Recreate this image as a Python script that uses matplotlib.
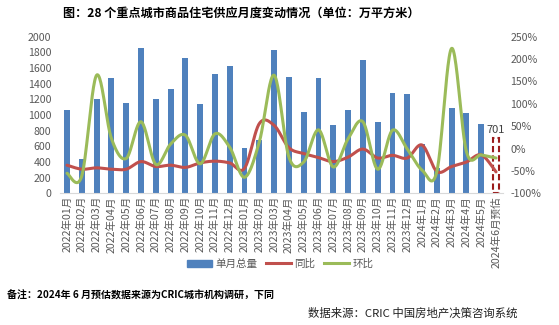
import numpy as np
import matplotlib
matplotlib.use("Agg")
import matplotlib.pyplot as plt
from matplotlib.patches import Patch
from matplotlib.lines import Line2D
from matplotlib.ticker import FuncFormatter

plt.rcParams['font.family'] = ['Noto Sans CJK SC', 'DejaVu Sans']

months = ["2022年01月", "2022年02月", "2022年03月", "2022年04月", "2022年05月", "2022年06月",
          "2022年07月", "2022年08月", "2022年09月", "2022年10月", "2022年11月", "2022年12月",
          "2023年01月", "2023年02月", "2023年03月", "2023年04月", "2023年05月", "2023年06月",
          "2023年07月", "2023年08月", "2023年09月", "2023年10月", "2023年11月", "2023年12月",
          "2024年1月", "2024年2月", "2024年3月", "2024年4月", "2024年5月", "2024年6月预估"]

supply = [1064, 435, 1204, 1476, 1157, 1860, 1204, 1332, 1728, 1140, 1523, 1626,
          583, 680, 1830, 1481, 1042, 1476, 872, 1064, 1702, 911, 1285, 1268,
          630, 330, 1089, 1025, 885, 701]

yoy = [-37, -46, -43, -46, -46, -29, -40, -37, -42, -32, -28, -32,
       -44, 56, 52, 2, -11, -20, -29, -19, -1, -21, -15, -21,
       8, -51, -40, -30, -14, -52]

mom = [-55, -61, 164, 23, -22, 60, -35, 10, 30, -34, 33, 3,
       -64, 15, 164, -19, -30, 42, -41, 22, 60, -46, 41, -1,
       -48, -51, 224, -7, -14, -21]

BLUE = "#4F81BD"
RED = "#C0504D"
GREEN = "#9BBB59"
GREY = "#595959"


def smooth(xs, ys, n=24):
    """Catmull-Rom curve through the points (same idea as a smoothed line)."""
    p = np.column_stack([xs, ys]).astype(float)
    p = np.vstack([p[0], p, p[-1]])
    out = []
    t = np.linspace(0, 1, n, endpoint=False)
    for i in range(1, len(p) - 2):
        p0, p1, p2, p3 = p[i - 1], p[i], p[i + 1], p[i + 2]
        c1 = p1 + (p2 - p0) / 6
        c2 = p2 - (p3 - p1) / 6
        tt = t[:, None]
        seg = ((1 - tt) ** 3) * p1 + 3 * ((1 - tt) ** 2) * tt * c1 + 3 * (1 - tt) * tt ** 2 * c2 + tt ** 3 * p2
        out.append(seg)
    out.append(p[-2][None, :])
    out = np.vstack(out)
    return out[:, 0], out[:, 1]


fig = plt.figure(figsize=(5.59, 3.25), dpi=100)
ax = fig.add_axes([0.1066, 0.405, 0.794, 0.482])
ax2 = ax.twinx()

x = np.arange(len(months))
n = len(months)
ax.bar(x[:-1], supply[:-1], width=0.4, color=BLUE, zorder=2)
ax.bar(x[-1:], supply[-1:], width=0.4, facecolor="none", edgecolor="#9B1B1B",
       linestyle=(0, (3, 1.5)), linewidth=1.5, zorder=2)
ax.text(x[-1], supply[-1] + 50, f"{supply[-1]}", ha="center", va="bottom",
        fontsize=8, color="#404040")

sx, sy = smooth(x, yoy)
ax2.plot(sx, sy, color=RED, lw=2.2, solid_capstyle="round")
sx, sy = smooth(x, mom)
ax2.plot(sx, sy, color=GREEN, lw=2.2, solid_capstyle="round")

ax.set_xlim(-0.5, n - 0.5)
ax.set_ylim(0, 2000)
ax.set_yticks(np.arange(0, 2001, 200))
ax2.set_ylim(-100, 250)
ax2.set_yticks(np.arange(-100, 251, 50))
ax2.yaxis.set_major_formatter(FuncFormatter(lambda v, p: f"{int(v)}%"))

ax.set_xticks(x)
ax.set_xticklabels(months, rotation=90, fontsize=7.6, color=GREY)
for a in (ax, ax2):
    for s in a.spines.values():
        s.set_visible(False)
    a.tick_params(length=0, labelsize=7.6, labelcolor=GREY)
ax.spines["bottom"].set_visible(True)
ax.spines["bottom"].set_color("#D9D9D9")
ax.tick_params(axis="y", pad=6)
ax.tick_params(axis="x", pad=2)
ax2.tick_params(axis="y", pad=5)

handles = [Patch(color=BLUE), Line2D([], [], color=RED, lw=2.2), Line2D([], [], color=GREEN, lw=2.2)]
fig.legend(handles, ["单月总量", "同比", "环比"], loc="center", bbox_to_anchor=(280 / 559, 1 - 264 / 325),
           ncol=3, frameon=False, fontsize=7.6, handlelength=2.4, handletextpad=0.3, columnspacing=0.8,
           labelcolor=GREY)

fig.text(241 / 559, 1 - 13 / 325, "图：28 个重点城市商品住宅供应月度变动情况（单位：万平方米）",
         ha="center", va="center", fontsize=8.7, fontweight="bold", color="black")
fig.text(7 / 559, 1 - 296 / 325, "备注：2024年 6 月预估数据来源为CRIC城市机构调研，下同",
         ha="left", va="center", fontsize=7.2, fontweight="bold", color="black")
fig.text(517 / 559, 1 - 313 / 325, "数据来源：CRIC 中国房地产决策咨询系统",
         ha="right", va="center", fontsize=8.2, color="#202020")

fig.savefig("out.png", dpi=100)
